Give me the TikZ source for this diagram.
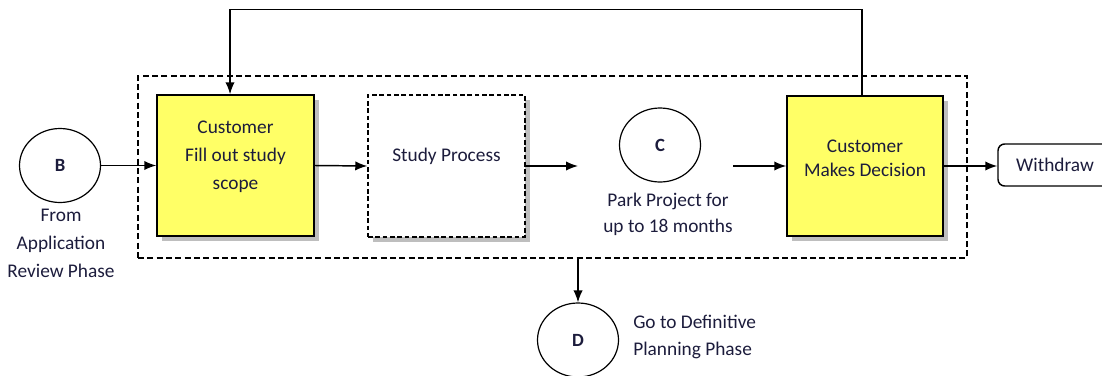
\documentclass[tikz,border=0pt]{standalone}
\usepackage{fontspec}
\setmainfont{Carlito}
\usetikzlibrary{arrows.meta,shadows,calc,shapes.geometric}
\definecolor{ink}{RGB}{28,28,60}
\definecolor{boxyellow}{RGB}{255,255,102}
\definecolor{shade}{RGB}{190,190,190}
\tikzset{
  line/.style={draw=black, line width=1.1pt},
  arr/.style={line, -{Latex[length=9pt,width=7pt]}},
  txt/.style={text=ink, align=center, inner sep=0pt, font=\fontsize{14.5}{21}\selectfont},
  sh/.style={drop shadow={shadow xshift=4pt, shadow yshift=-4pt, fill=shade, opacity=1}},
  ybox/.style={line, fill=boxyellow, sh, minimum width=117.75pt, minimum height=105.75pt, inner sep=0pt},
  dbox/.style={line, fill=white, sh, dash pattern=on 3.5pt off 2pt, minimum width=117.75pt, minimum height=106.5pt, inner sep=0pt},
  conn/.style={draw=black, line width=0.9pt, ellipse, fill=white, minimum width=60.75pt, minimum height=55.5pt, inner sep=0pt,
    text=ink, font=\fontsize{14}{16}\selectfont\bfseries},
  rbox/.style={line, rounded corners=5pt, fill=white, minimum width=85.5pt, minimum height=31.5pt, inner sep=0pt,
    text=ink, font=\fontsize{14.5}{18}\selectfont},
}
\begin{document}
\begin{tikzpicture}[x=0.75pt,y=-0.75pt]
  \useasboundingbox (0,0) rectangle (1102,375);
  \clip (0,0) rectangle (1102,375);

  % study-phase frame
  \node[line, dash pattern=on 4.5pt off 2.5pt, minimum width=621.75pt, minimum height=136.5pt, inner sep=0pt] (frame) at (552.5,167) {};

  % process boxes
  \node[ybox] (box1) at (235.5,165.5) {};
  \node[txt] (box1t) at ([yshift=6.75pt]box1.center) {Customer\\Fill out study\\scope};

  \node[dbox] (study) at (446.5,166) {};
  \node[txt] (studyt) at ([yshift=7.5pt]study.center) {Study Process};

  \node[ybox, minimum width=117pt, minimum height=105pt] (box2) at (865,166) {};
  \node[txt, font=\fontsize{14.5}{18}\selectfont] (box2t) at ([yshift=6pt]box2.center) {Customer\\Makes Decision};

  \node[rbox] (wd) at (1055,165) {Withdraw};

  % off-page connectors
  \node[conn] (B) at (60,165.5) {B};
  \node[txt, anchor=north] (Bt) at (61,209) {From\\Application\\Review Phase};

  \node[conn] (C) at (660,145) {C};
  \node[txt, font=\fontsize{14.5}{19.5}\selectfont, anchor=north] (Ct) at (668,193) {Park Project for\\up to 18 months};

  \node[conn] (D) at (578,340) {D};
  \node[txt, font=\fontsize{14.5}{20}\selectfont, align=left, anchor=west] (Dt) at (633,337) {Go to Definitive\\Planning Phase};

  % flow
  \coordinate (park in) at (578,166);
  \coordinate (park out) at (733,166);
  \draw[arr] (B.east) -- (box1.west);
  \draw[arr] (box1.east) -- (study.west);
  \draw[arr] (study.east |- park in) -- (park in);
  \draw[arr] (park out) -- (box2.west |- park out);
  \draw[arr] (box2.east) -- (wd.west |- box2.east);
  \draw[arr] ([xshift=-2.25pt]box2.north) -- ++(0,-86) -| ([xshift=-4.1pt]box1.north);
  \draw[arr] (D |- frame.south) -- (D.north);
\end{tikzpicture}
\end{document}
